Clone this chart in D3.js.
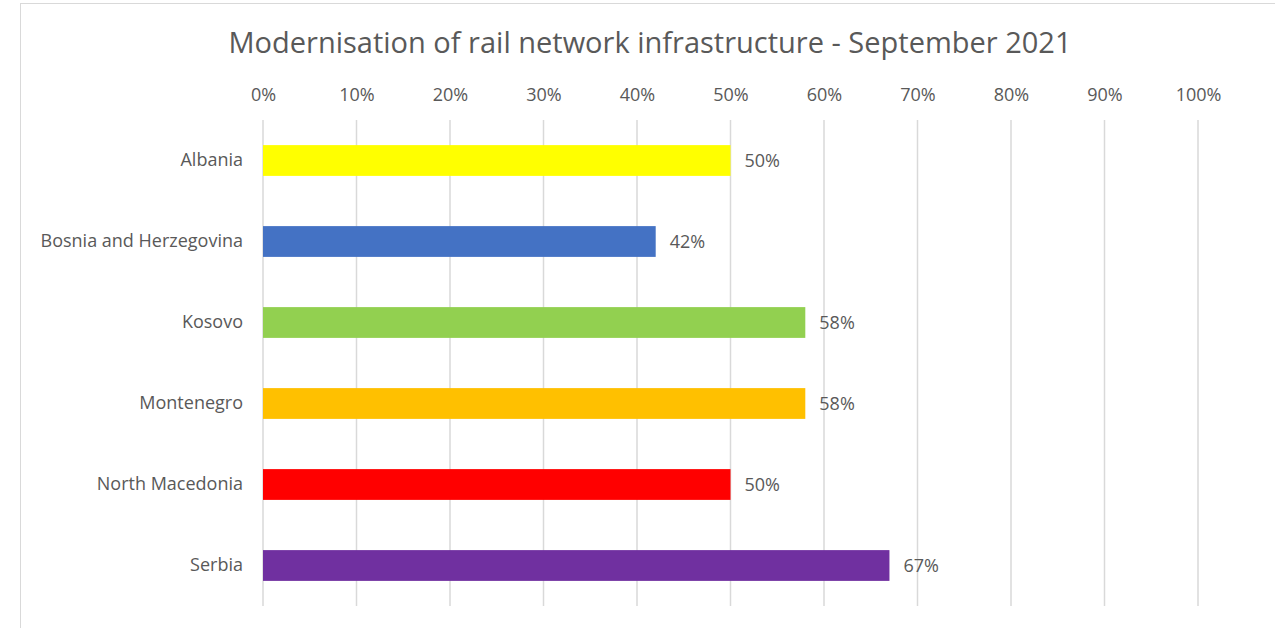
<!DOCTYPE html>
<html>
<head>
    <meta charset="utf-8" />
    <title>Modernisation of rail network infrastructure</title>
    <style>
        body { margin: 0; background: #fff; }
        text { font-family: "Open Sans", Lato, sans-serif; fill: #595959; }
        .grid line { stroke: #d9d9d9; stroke-width: 1.5px; }
    </style>
    <script src="https://cdn.jsdelivr.net/npm/d3@7"></script>
</head>
<body>
    <script>
        // data
        const countries = ["Albania", "Bosnia and Herzegovina", "Kosovo", "Montenegro", "North Macedonia", "Serbia"];
        const values = [0.50, 0.42, 0.58, 0.58, 0.50, 0.67];
        const colors = ["#ffff00", "#4472c4", "#92d050", "#ffc000", "#ff0000", "#7030a0"];
        const ticks = [0, 0.1, 0.2, 0.3, 0.4, 0.5, 0.6, 0.7, 0.8, 0.9, 1.0];

        const W = 1275, H = 628;
        const plot = { left: 263, right: 1198, top: 120, bottom: 606 };
        const fontStack = "'Open Sans', Lato, sans-serif";
        const labelSize = "18px";

        const svg = d3.select("body").append("svg")
            .attr("width", W)
            .attr("height", H);

        // chart area border
        svg.append("rect")
            .attr("x", 20.5).attr("y", 3.5)
            .attr("width", W).attr("height", H)
            .attr("fill", "none")
            .attr("stroke", "#d9d9d9")
            .attr("stroke-width", 1);

        const x = d3.scaleLinear().domain([0, 1]).range([plot.left, plot.right]);
        const y = d3.scaleBand().domain(countries)
            .range([plot.top, plot.bottom])
            .paddingInner(0.62)
            .paddingOuter(0.31);

        // title
        svg.append("text")
            .attr("x", 650).attr("y", 53)
            .attr("text-anchor", "middle")
            .style("font-size", "29px")
            .text("Modernisation of rail network infrastructure - September 2021");

        // gridlines
        svg.append("g").attr("class", "grid")
            .selectAll("line")
            .data(ticks)
            .enter().append("line")
                .attr("x1", d => x(d)).attr("x2", d => x(d))
                .attr("y1", plot.top).attr("y2", plot.bottom);

        // top axis labels
        const xAxis = svg.append("g")
            .attr("transform", "translate(0," + 101 + ")")
            .call(d3.axisTop(x).tickValues(ticks).tickFormat(d3.format(".0%")).tickSize(0).tickPadding(0));
        xAxis.select(".domain").remove();
        xAxis.selectAll("text")
            .style("font-size", labelSize)
            .style("font-family", fontStack)
            .attr("fill", "#595959");

        // category labels
        const yAxis = svg.append("g")
            .attr("transform", "translate(" + (plot.left - 20) + ",0)")
            .call(d3.axisLeft(y).tickSize(0).tickPadding(0));
        yAxis.select(".domain").remove();
        yAxis.selectAll("text")
            .style("font-size", labelSize)
            .style("font-family", fontStack)
            .attr("fill", "#595959");

        // bars
        svg.selectAll(".bar")
            .data(values)
            .enter().append("rect")
                .attr("class", "bar")
                .attr("x", x(0))
                .attr("y", (d, i) => y(countries[i]))
                .attr("width", d => x(d) - x(0))
                .attr("height", y.bandwidth())
                .attr("fill", (d, i) => colors[i]);

        // value labels
        svg.selectAll(".val")
            .data(values)
            .enter().append("text")
                .attr("class", "val")
                .attr("x", d => x(d) + 14)
                .attr("y", (d, i) => y(countries[i]) + y.bandwidth() / 2)
                .attr("dy", "0.35em")
                .style("font-size", labelSize)
                .text(d => d3.format(".0%")(d));
    </script>
</body>
</html>
